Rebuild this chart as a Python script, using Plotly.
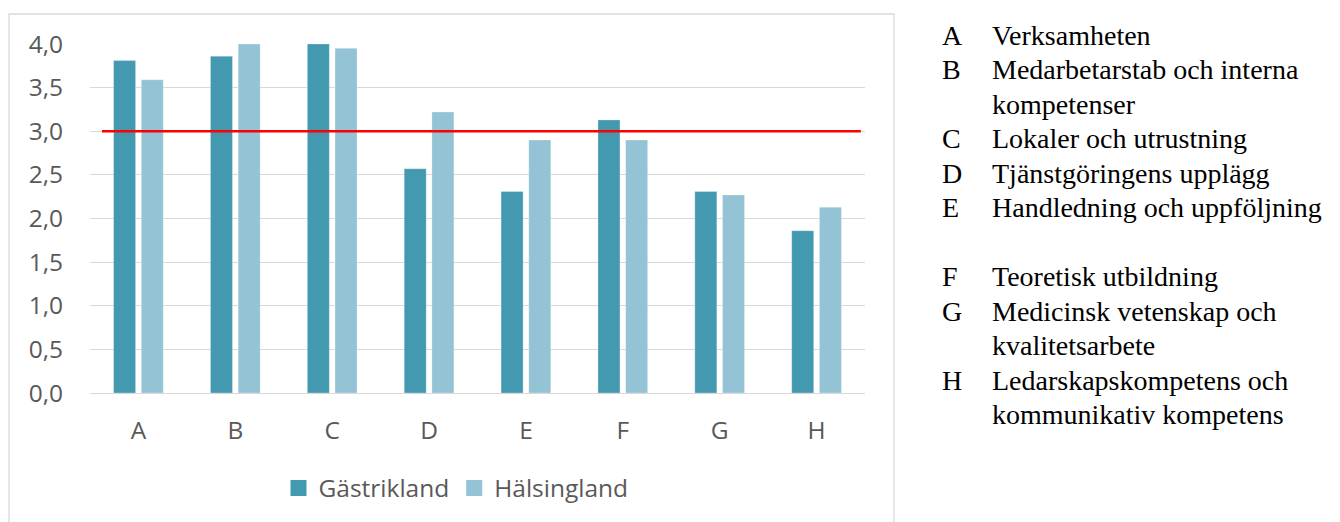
import plotly.graph_objects as go

categories = ["A", "B", "C", "D", "E", "F", "G", "H"]
gastrikland = [3.81, 3.86, 4.00, 2.57, 2.31, 3.13, 2.31, 1.86]
halsingland = [3.59, 4.00, 3.95, 3.22, 2.90, 2.90, 2.27, 2.13]
series_names = ["Gästrikland", "Hälsingland"]
series_colors = ["#4399AF", "#93C3D5"]
threshold = 3.0
y_ticks = [0, 0.5, 1.0, 1.5, 2.0, 2.5, 3.0, 3.5, 4.0]
y_tick_labels = ["0,0", "0,5", "1,0", "1,5", "2,0", "2,5", "3,0", "3,5", "4,0"]

key_letters = ["A", "B", "C", "D", "E", "F", "G", "H"]
key_texts = [
    ["Verksamheten"],
    ["Medarbetarstab och interna", "kompetenser"],
    ["Lokaler och utrustning"],
    ["Tjänstgöringens upplägg"],
    ["Handledning och uppföljning", ""],
    ["Teoretisk utbildning"],
    ["Medicinsk vetenskap och", "kvalitetsarbete"],
    ["Ledarskapskompetens och", "kommunikativ kompetens"],
]

W, H = 1340, 522
PL, PR, PT, PB = 90, 865, 44, 393
SANS = 24.5
SERIF = 28


def px(x):
    return (x - PL) / (PR - PL)


def py(y):
    return (PB - y) / (PB - PT)


fig = go.Figure()
for name, vals, col in zip(series_names, [gastrikland, halsingland], series_colors):
    fig.add_trace(go.Bar(x=categories, y=vals, name=name, showlegend=False,
                         marker=dict(color=col, line=dict(width=0.8, color="rgba(255,255,255,0.35)"))))
# legend entries with larger square symbols
for name, col in zip(series_names, series_colors):
    fig.add_trace(go.Scatter(x=[None], y=[None], mode="markers", name=name,
                             marker=dict(symbol="square", size=16, color=col),
                             showlegend=True, hoverinfo="skip"))

# threshold line
fig.add_shape(type="line", xref="x", yref="y", x0=-0.376, x1=7.457,
              y0=threshold, y1=threshold, line=dict(color="#FF0000", width=2.5),
              layer="above")

# chart frame (left, top, right)
fl, fr, ft, fb = px(9), px(894), py(14), py(540)
fig.add_shape(type="path", xref="paper", yref="paper",
              path=f"M {fl},{fb} L {fl},{ft} L {fr},{ft} L {fr},{fb}",
              line=dict(color="#D9D9D9", width=1.3), layer="below")

# key text
annotations = []
base_y = 35
step = 34.5
row = 0
for letter, lines in zip(key_letters, key_texts):
    for i, line in enumerate(lines):
        yc = base_y + row * step
        if i == 0:
            annotations.append(dict(text=letter, xref="paper", yref="paper",
                                    x=px(940), y=py(yc), xanchor="left", yanchor="middle",
                                    showarrow=False,
                                    font=dict(family="Liberation Serif", size=SERIF, color="#000000")))
        if line:
            annotations.append(dict(text=line, xref="paper", yref="paper",
                                    x=px(990), y=py(yc), xanchor="left", yanchor="middle",
                                    showarrow=False,
                                    font=dict(family="Liberation Serif", size=SERIF, color="#000000")))
        row += 1

fig.update_layout(
    width=W, height=H,
    margin=dict(l=PL, r=W - PR, t=PT, b=H - PB, pad=0),
    paper_bgcolor="white", plot_bgcolor="white",
    barmode="group", bargap=0.428, bargroupgap=0.206,
    font=dict(family="Open Sans", size=SANS, color="#595959"),
    showlegend=True,
    legend=dict(orientation="h", x=px(456), xanchor="center", y=py(488), yanchor="middle",
                font=dict(family="Open Sans", size=SANS, color="#595959"),
                itemsizing="trace", itemwidth=30, bgcolor="rgba(0,0,0,0)"),
    annotations=annotations,
)
fig.update_xaxes(showgrid=False, showline=False, zeroline=False, ticks="",
                 ticklabelstandoff=20, tickfont=dict(size=SANS, color="#595959"))
fig.update_yaxes(range=[0, 4], tickvals=y_ticks, ticktext=y_tick_labels,
                 showgrid=True, gridcolor="#D9D9D9", gridwidth=1.3,
                 zeroline=True, zerolinecolor="#D9D9D9", zerolinewidth=1.3,
                 showline=False, ticks="", ticklabelstandoff=26,
                 tickfont=dict(size=SANS, color="#595959"))

fig.write_html("out.html")
